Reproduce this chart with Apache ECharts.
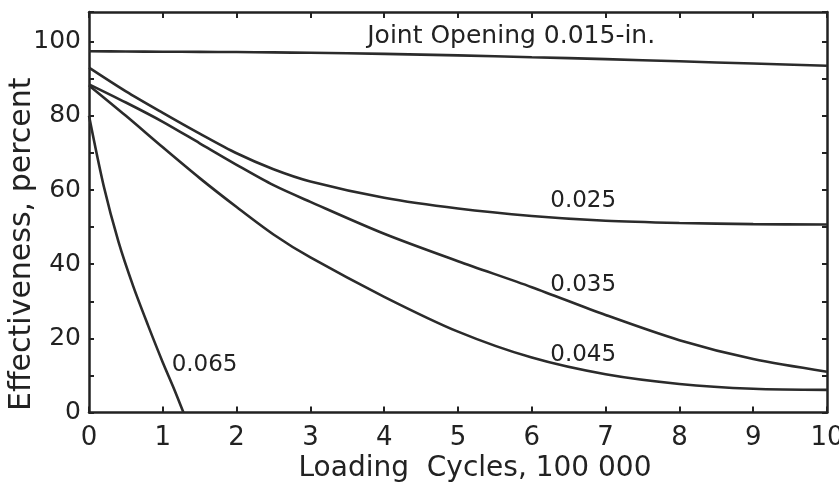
<!DOCTYPE html>
<html>
<head>
<meta charset="utf-8">
<script src="https://cdn.jsdelivr.net/npm/echarts@6/dist/echarts.min.js"></script>
<style>
  html, body { margin: 0; background: #fff; }
  #chart { width: 839px; height: 482px; }
</style>
</head>
<body>
<div id="chart"></div>
<script>
const cycles = [0, 0.5, 1, 1.5, 2, 2.5, 3, 4, 5, 6, 7, 8, 9, 10];
const open015 = [97.4, 97.35, 97.3, 97.25, 97.2, 97.1, 97.0, 96.7, 96.3, 95.8, 95.3, 94.7, 94.1, 93.5];
const open025 = [93.0, 86.6, 80.8, 75.2, 69.9, 65.6, 62.3, 57.9, 55.0, 53.0, 51.7, 51.1, 50.8, 50.7];
const open035 = [88.5, 83.6, 78.4, 72.6, 66.8, 61.3, 56.8, 48.2, 40.8, 33.8, 26.3, 19.5, 14.4, 11.0];
const open045 = [88.2, 80.0, 71.5, 63.2, 55.4, 48.0, 41.8, 31.2, 21.8, 14.8, 10.3, 7.7, 6.4, 6.1];
// the 0.065 curve drops to zero early, so it has its own x points
const cycles065 = [0, 0.2, 0.4, 0.6, 0.8, 1.0, 1.15, 1.28];
const open065 = [80, 61, 46, 34, 23.5, 13.5, 6.5, 0];

const xTicks = { min: 0, max: 10, step: 1 };
const yTicks = { min: 0, max: 108, step: 10, labelStep: 20, labelMax: 100 };

// annotation text and the data point its left edge / middle sits on
const curveLabels = [
  { text: 'Joint Opening 0.015-in.', at: [3.77, 101.4], size: 25 },
  { text: '0.025', at: [6.25, 57.0], size: 23 },
  { text: '0.035', at: [6.25, 34.5], size: 23 },
  { text: '0.045', at: [6.25, 15.6], size: 23 },
  { text: '0.065', at: [1.12, 12.9], size: 23 }
];

const FONT = 'DejaVu Sans';
const INK = '#222';
const LINE = '#2b2b2b';

function pairs(xs, ys) {
  return xs.map((x, i) => [x, ys[i]]);
}

function curve(name, data) {
  return {
    name,
    type: 'line',
    data,
    smooth: 0.3,
    showSymbol: false,
    silent: true,
    lineStyle: { color: LINE, width: 2.6 },
    xAxisIndex: 0,
    yAxisIndex: 0
  };
}

const axisLine = { show: true, onZero: false, lineStyle: { color: INK, width: 2.5 } };
const tick = { show: true, inside: true, length: 6, lineStyle: { color: INK, width: 2 } };

const chart = echarts.init(document.getElementById('chart'));

chart.setOption({
  animation: false,
  backgroundColor: '#fff',
  grid: { left: 89, right: 12, top: 12, bottom: 69.5, containLabel: false, outerBoundsMode: 'none' },
  xAxis: [
    {
      type: 'value',
      position: 'bottom',
      min: xTicks.min, max: xTicks.max, interval: xTicks.step,
      axisLine, axisTick: tick,
      splitLine: { show: false },
      axisLabel: {
        fontFamily: FONT, fontSize: 26, color: INK, margin: 13,
        showMinLabel: true, showMaxLabel: true
      },
      name: 'Loading  Cycles, 100 000',
      nameLocation: 'middle',
      nameGap: 42,
      nameMoveOverlap: false,
      nameTextStyle: { fontFamily: FONT, fontSize: 28, color: INK, padding: [0, 0, 0, 34] }
    },
    {
      type: 'value',
      position: 'top',
      min: xTicks.min, max: xTicks.max, interval: xTicks.step,
      axisLine, axisTick: tick,
      splitLine: { show: false },
      axisLabel: { show: false }
    }
  ],
  yAxis: [
    {
      type: 'value',
      position: 'left',
      min: yTicks.min, max: yTicks.max, interval: yTicks.step,
      axisLine, axisTick: { ...tick, length: 5 },
      splitLine: { show: false },
      axisLabel: {
        fontFamily: FONT, fontSize: 25, color: INK, margin: 8,
        formatter: v => (v % yTicks.labelStep === 0 && v <= yTicks.labelMax ? String(v) : '')
      },
      name: 'Effectiveness, percent',
      nameLocation: 'middle',
      nameGap: 52,
      nameMoveOverlap: false,
      nameTextStyle: { fontFamily: FONT, fontSize: 30, color: INK, padding: [0, 64, 0, 0] }
    },
    {
      type: 'value',
      position: 'right',
      min: yTicks.min, max: yTicks.max, interval: yTicks.step,
      axisLine, axisTick: { ...tick, length: 5 },
      splitLine: { show: false },
      axisLabel: { show: false }
    }
  ],
  series: [
    curve('0.015', pairs(cycles, open015)),
    curve('0.025', pairs(cycles, open025)),
    curve('0.035', pairs(cycles, open035)),
    curve('0.045', pairs(cycles, open045)),
    curve('0.065', pairs(cycles065, open065))
  ]
});

// place the curve annotations through the grid's own scales
chart.setOption({
  graphic: curveLabels.map(l => {
    const [px, py] = chart.convertToPixel({ xAxisIndex: 0, yAxisIndex: 0 }, l.at);
    return {
      type: 'text',
      x: px, y: py,
      silent: true,
      style: {
        text: l.text,
        fontFamily: FONT, fontSize: l.size, fill: INK,
        align: 'left', verticalAlign: 'middle'
      }
    };
  })
});
</script>
</body>
</html>
